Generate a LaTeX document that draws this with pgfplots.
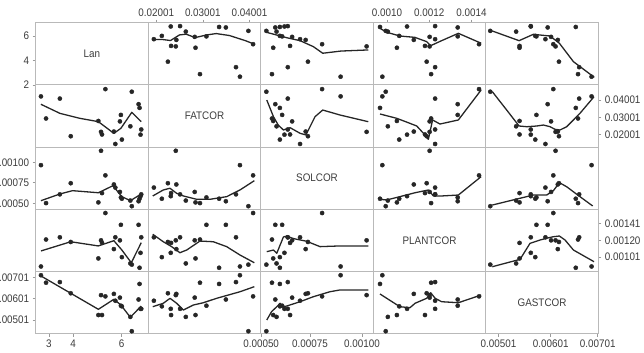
\documentclass[border=0pt]{standalone}
\usepackage{pgfplots}
\usepackage{pgfplotstable}
\pgfplotsset{compat=1.18}
\usepackage{fontspec}
\setmainfont{Liberation Sans}[FakeStretch=0.9]

\definecolor{framegray}{HTML}{B9B9B9}
\definecolor{tickgray}{HTML}{9A9A9A}
\definecolor{ink}{HTML}{262626}
\definecolor{labelgray}{HTML}{3C3C3C}

% one row per observation
\pgfplotstableread{
lan  fat     sol      plant    gast
2.67 0.03797 0.000897 0.000978 0.006791
2.88 0.02940 0.000567 0.001209 0.006532
3.45 0.03712 0.000643 0.001228 0.006554
3.90 0.02252 0.000740 0.001188 0.006167
5.04 0.02844 0.000573 0.001047 0.005413
5.15 0.02421 0.001022 0.001202 0.006102
5.19 0.02320 0.000654 0.001180 0.005413
5.33 0.04079 0.000808 0.001436 0.006059
5.68 0.02433 0.000729 0.001127 0.006145
5.74 0.01951 0.000702 0.001228 0.005908
5.93 0.02827 0.000664 0.001202 0.006016
5.97 0.03078 0.000616 0.001335 0.005736
6.01 0.02122 0.000605 0.001058 0.005714
6.36 0.02636 0.000589 0.001004 0.005348
6.42 0.03978 0.000540 0.000994 0.004853
6.70 0.03495 0.000583 0.001335 0.005951
6.74 0.03350 0.000605 0.000967 0.006489
6.78 0.02313 0.000627 0.001095 0.005628
6.81 0.02513 0.000643 0.001228 0.005628
}\obs

\pgfplotsset{
  panel/.style={
    scale only axis, width=112.52bp, height=62.2bp, anchor=south west,
    axis line style={draw=framegray, line width=0.8pt},
    xtick=\empty, ytick=\empty, scaled ticks=false,
    tick align=outside, major tick length=3bp,
    tick style={draw=tickgray, line width=0.6pt},
    ticklabel style={font=\fontsize{11}{12}\selectfont, text=labelgray},
    clip=false,
  },
  xLan/.style={xmin=2.453, xmax=7.098},
  yLan/.style={ymin=2.0, ymax=7.09},
  xFAT/.style={xmin=0.0183, xmax=0.04243},
  yFAT/.style={ymin=0.0183, ymax=0.04243},
  xSOL/.style={xmin=0.000513, xmax=0.001054},
  ySOL/.style={ymin=0.000513, ymax=0.001054},
  xPLANT/.style={xmin=0.000935, xmax=0.001468},
  yPLANT/.style={ymin=0.000935, ymax=0.001468},
  xGAST/.style={xmin=0.004767, xmax=0.00692},
  yGAST/.style={ymin=0.004767, ymax=0.00692},
  pts/.style={only marks, mark=*, mark size=2.1pt, mark options={fill=ink, draw=ink}},
  fit/.style={no marks, line width=1.3pt, color=ink, line join=round},
}
\newcommand{\diag}[1]{\node[font=\fontsize{11}{12}\selectfont, text=labelgray] at (rel axis cs:0.5,0.5) {#1};}

\begin{document}
\begin{tikzpicture}
\path[use as bounding box] (0bp,0bp) rectangle (644bp,353bp);

% ---------------- row 1: Lan ----------------
\begin{axis}[panel, at={(35.70bp,268.1bp)}, xLan, yLan,
  ytick={2,4,6}, yticklabels={2,4,6}, ytick pos=left]
\diag{Lan}
\end{axis}

\begin{axis}[panel, at={(148.22bp,268.1bp)}, xFAT, yLan,
  xtick={0.02001,0.03001,0.04001}, xticklabels={0.02001,0.03001,0.04001},
  xtick pos=right, xticklabel pos=right]
\addplot[pts] table[x=fat, y=lan] {\obs};
\addplot[fit] coordinates {(0.01917,5.71) (0.02144,5.71) (0.02308,5.63) (0.02501,6.09) (0.02643,6.15) (0.02836,5.87) (0.03087,6.09) (0.03287,6.20) (0.03572,6.04) (0.03929,5.60) (0.04093,5.35)};
\end{axis}

\begin{axis}[panel, at={(260.74bp,268.1bp)}, xSOL, yLan]
\addplot[pts] table[x=sol, y=lan] {\obs};
\addplot[fit] coordinates {(0.000537,6.32) (0.000590,6.08) (0.000638,5.86) (0.000702,5.62) (0.000766,5.13) (0.000811,4.59) (0.000899,4.77) (0.001030,4.86)};
\end{axis}

\begin{axis}[panel, at={(373.26bp,268.1bp)}, xPLANT, yLan,
  xtick={0.0010,0.0012,0.0014}, xticklabels={0.0010,0.0012,0.0014},
  xtick pos=right, xticklabel pos=right]
\addplot[pts] table[x=plant, y=lan] {\obs};
\addplot[fit] coordinates {(0.000967,6.63) (0.000998,6.31) (0.001061,6.00) (0.001132,5.89) (0.001188,5.54) (0.001207,5.21) (0.001259,5.62) (0.001338,6.22) (0.001446,5.41)};
\end{axis}

\begin{axis}[panel, at={(485.78bp,268.1bp)}, xGAST, yLan]
\addplot[pts] table[x=gast, y=lan] {\obs};
\addplot[fit] coordinates {(0.004892,6.41) (0.005404,5.62) (0.005678,6.14) (0.005807,6.08) (0.005996,6.00) (0.006175,5.41) (0.006444,3.90) (0.006700,3.08) (0.006843,2.62)};
\end{axis}

% ---------------- row 2: FATCOR ----------------
\begin{axis}[panel, at={(35.70bp,205.9bp)}, xLan, yFAT]
\addplot[pts] table[x=lan, y=fat] {\obs};
\addplot[fit] coordinates {(2.67,0.03490) (3.45,0.03140) (4.27,0.02947) (5.04,0.02817) (5.68,0.02363) (5.97,0.02559) (6.42,0.03179) (6.81,0.02817)};
\end{axis}

\begin{axis}[panel, at={(148.22bp,205.9bp)}, xFAT, yFAT]
\diag{FATCOR}
\end{axis}

\begin{axis}[panel, at={(260.74bp,205.9bp)}, xSOL, yFAT]
\addplot[pts] table[x=sol, y=fat] {\obs};
\addplot[fit] coordinates {(0.000542,0.03657) (0.000574,0.03010) (0.000597,0.02687) (0.000622,0.02494) (0.000654,0.02583) (0.000702,0.02366) (0.000730,0.02301) (0.000774,0.03010) (0.000811,0.03268) (0.000894,0.03075) (0.001030,0.02815)};
\end{axis}

\begin{axis}[panel, at={(373.26bp,205.9bp)}, xPLANT, yFAT]
\addplot[pts] table[x=plant, y=fat] {\obs};
\addplot[fit] coordinates {(0.000967,0.03114) (0.001046,0.02947) (0.001101,0.02776) (0.001141,0.02648) (0.001180,0.02301) (0.001196,0.02132) (0.001204,0.02428) (0.001216,0.02882) (0.001251,0.02725) (0.001338,0.02882) (0.001446,0.04045)};
\end{axis}

\begin{axis}[panel, at={(485.78bp,205.9bp)}, xGAST, yFAT,
  ytick={0.02327,0.02971,0.03657}, yticklabels={0.02001,0.03001,0.04001},
  ytick pos=right, yticklabel pos=right]
\addplot[pts] table[x=gast, y=fat] {\obs};
\addplot[fit] coordinates {(0.004892,0.03980) (0.005167,0.03268) (0.005404,0.02648) (0.005551,0.02621) (0.005742,0.02648) (0.005869,0.02686) (0.005996,0.02621) (0.006091,0.02520) (0.006188,0.02494) (0.006315,0.02621) (0.006569,0.03140) (0.006838,0.03785)};
\end{axis}

% ---------------- row 3: SOLCOR ----------------
\begin{axis}[panel, at={(35.70bp,143.7bp)}, xLan, ySOL,
  ytick={0.000565,0.000745,0.000918}, yticklabels={0.00050,0.00075,0.00100}, ytick pos=left]
\addplot[pts] table[x=lan, y=sol] {\obs};
\addplot[fit] coordinates {(2.67,0.000588) (3.45,0.000646) (3.97,0.000675) (5.04,0.000657) (5.64,0.000718) (6.01,0.000623) (6.36,0.000588) (6.81,0.000646)};
\end{axis}

\begin{axis}[panel, at={(148.22bp,143.7bp)}, xFAT, ySOL]
\addplot[pts] table[x=fat, y=sol] {\obs};
\addplot[fit] coordinates {(0.01927,0.000629) (0.02153,0.000681) (0.02296,0.000696) (0.02440,0.000652) (0.02583,0.000629) (0.02868,0.000600) (0.03155,0.000600) (0.03512,0.000623) (0.03797,0.000681) (0.04106,0.000762)};
\end{axis}

\begin{axis}[panel, at={(260.74bp,143.7bp)}, xSOL, ySOL]
\diag{SOLCOR}
\end{axis}

\begin{axis}[panel, at={(373.26bp,143.7bp)}, xPLANT, ySOL]
\addplot[pts] table[x=plant, y=sol] {\obs};
\addplot[fit] coordinates {(0.000967,0.000600) (0.000998,0.000594) (0.001061,0.000623) (0.001133,0.000657) (0.001196,0.000681) (0.001207,0.000657) (0.001220,0.000629) (0.001259,0.000629) (0.001338,0.000637) (0.001446,0.000797)};
\end{axis}

\begin{axis}[panel, at={(485.78bp,143.7bp)}, xGAST, ySOL]
\addplot[pts] table[x=gast, y=sol] {\obs};
\addplot[fit] coordinates {(0.004892,0.000550) (0.005422,0.000609) (0.005678,0.000637) (0.005932,0.000637) (0.006061,0.000675) (0.006175,0.000745) (0.006315,0.000709) (0.006569,0.000623) (0.006812,0.000542)};
\end{axis}

% ---------------- row 4: PLANTCOR ----------------
\begin{axis}[panel, at={(35.70bp,81.5bp)}, xLan, yPLANT]
\addplot[pts] table[x=lan, y=plant] {\obs};
\addplot[fit] coordinates {(2.67,0.001111) (3.90,0.001190) (5.04,0.001154) (5.68,0.001199) (6.01,0.001119) (6.40,0.001010) (6.81,0.001182)};
\end{axis}

\begin{axis}[panel, at={(148.22bp,81.5bp)}, xFAT, yPLANT]
\addplot[pts] table[x=fat, y=plant] {\obs};
\addplot[fit] coordinates {(0.01927,0.001254) (0.02153,0.001190) (0.02332,0.001148) (0.02510,0.001096) (0.02655,0.001119) (0.02940,0.001196) (0.03225,0.001190) (0.03512,0.001148) (0.03799,0.001076) (0.04106,0.001010)};
\end{axis}

\begin{axis}[panel, at={(260.74bp,81.5bp)}, xSOL, yPLANT]
\addplot[pts] table[x=sol, y=plant] {\obs};
\addplot[fit] coordinates {(0.000542,0.001105) (0.000574,0.001119) (0.000590,0.001091) (0.000622,0.001231) (0.000638,0.001239) (0.000670,0.001217) (0.000734,0.001194) (0.000798,0.001148) (0.000894,0.001154) (0.001030,0.001154)};
\end{axis}

\begin{axis}[panel, at={(373.26bp,81.5bp)}, xPLANT, yPLANT]
\diag{PLANTCOR}
\end{axis}

\begin{axis}[panel, at={(485.78bp,81.5bp)}, xGAST, yPLANT,
  ytick={0.001059,0.001200,0.001348}, yticklabels={0.00101,0.00120,0.00141},
  ytick pos=right, yticklabel pos=right]
\addplot[pts] table[x=gast, y=plant] {\obs};
\addplot[fit] coordinates {(0.004892,0.000976) (0.005422,0.001039) (0.005613,0.001176) (0.005807,0.001205) (0.005932,0.001220) (0.006059,0.001233) (0.006175,0.001239) (0.006283,0.001205) (0.006444,0.001119) (0.006838,0.001019)};
\end{axis}

% ---------------- row 5: GASTCOR ----------------
\begin{axis}[panel, at={(35.70bp,19.3bp)}, xLan, yGAST,
  xtick={3,4,6}, xticklabels={3,4,6}, xtick pos=left,
  ytick={0.005234,0.005979,0.006713}, yticklabels={0.00501,0.00601,0.00701}, ytick pos=left]
\addplot[pts] table[x=lan, y=gast] {\obs};
\addplot[fit] coordinates {(2.67,0.006765) (5.04,0.005611) (5.68,0.005958) (5.97,0.005760) (6.36,0.005335) (6.81,0.005725)};
\end{axis}

\begin{axis}[panel, at={(148.22bp,19.3bp)}, xFAT, yGAST]
\addplot[pts] table[x=fat, y=gast] {\obs};
\addplot[fit] coordinates {(0.01927,0.005701) (0.02153,0.005820) (0.02298,0.005992) (0.02440,0.005820) (0.02583,0.005587) (0.02798,0.005760) (0.03012,0.005839) (0.03297,0.005992) (0.03799,0.006220) (0.04106,0.006395)};
\end{axis}

\begin{axis}[panel, at={(260.74bp,19.3bp)}, xSOL, yGAST,
  xtick={0.000515,0.00075,0.001}, xticklabels={0.00050,0.00075,0.00100}, xtick pos=left]
\addplot[pts] table[x=sol, y=gast] {\obs};
\addplot[fit] coordinates {(0.000542,0.005241) (0.000565,0.005529) (0.000590,0.005701) (0.000606,0.005820) (0.000622,0.005701) (0.000638,0.005725) (0.000702,0.005874) (0.000766,0.006048) (0.000846,0.006220) (0.000894,0.006281) (0.001030,0.006281)};
\end{axis}

\begin{axis}[panel, at={(373.26bp,19.3bp)}, xPLANT, yGAST]
\addplot[pts] table[x=plant, y=gast] {\obs};
\addplot[fit] coordinates {(0.000967,0.006141) (0.001061,0.005701) (0.001109,0.005667) (0.001133,0.005820) (0.001188,0.005992) (0.001207,0.006186) (0.001228,0.005992) (0.001259,0.005874) (0.001338,0.005839) (0.001446,0.006106)};
\end{axis}

\begin{axis}[panel, at={(485.78bp,19.3bp)}, xGAST, yGAST,
  xtick={0.00501,0.00601,0.00691}, xticklabels={0.00501,0.00601,0.00701}, xtick pos=left]
\diag{GASTCOR}
\end{axis}

\end{tikzpicture}
\end{document}
